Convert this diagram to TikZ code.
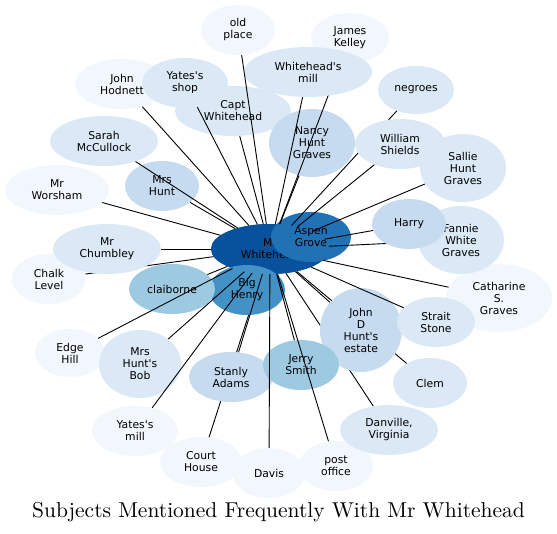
\documentclass[tikz,border=0pt]{standalone}
\usepackage{fontspec}
\newfontfamily\labfont{DejaVu Sans}
\newfontfamily\titlefont{lmroman10-regular.otf}
\usetikzlibrary{shapes.geometric}
\definecolor{c0}{HTML}{F2F7FD}
\definecolor{c1}{HTML}{DBE9F6}
\definecolor{c2}{HTML}{C6DBEF}
\definecolor{c3}{HTML}{9ECAE1}
\definecolor{c5}{HTML}{4292C6}
\definecolor{c6}{HTML}{2171B5}
\definecolor{c7}{HTML}{08519C}
\tikzset{
  ent/.style={ellipse, inner sep=0pt, align=center, text=black,
    font=\labfont\fontsize{10.8}{12}\selectfont},
  sz/.style 2 args={minimum width=#1pt, minimum height=#2pt},
  link/.style={draw=black, line width=0.9pt}
}
\begin{document}
\begin{tikzpicture}[x=1pt,y=-1pt]
\useasboundingbox (0,0) rectangle (557,534);
% group A
\node[ent,fill=c0,sz={74}{50}] (old) at (238,30) {old\\place};
\node[ent,fill=c0,sz={78}{50}] (jk) at (350,38) {James\\Kelley};
\node[ent,fill=c0,sz={94}{50}] (hod) at (122,84) {John\\Hodnett};
\node[ent,fill=c1,sz={86}{50}] (ysh) at (185,83) {Yates's\\shop};
\node[ent,fill=c1,sz={116}{50}] (capt) at (233,111) {Capt\\Whitehead};
\node[ent,fill=c1,sz={108}{50}] (sarah) at (104,141) {Sarah\\McCullock};
\node[ent,fill=c0,sz={104}{50}] (wor) at (57,190) {Mr\\Worsham};
\node[ent,fill=c0,sz={74}{50}] (chalk) at (49,279) {Chalk\\Level};
\node[ent,fill=c0,sz={70}{48}] (edge) at (70,353) {Edge\\Hill};
\node[ent,fill=c0,sz={86}{50}] (ymill) at (135,431) {Yates's\\mill};
\node[ent,fill=c0,sz={82}{50}] (court) at (201,462) {Court\\House};
\node[ent,fill=c0,sz={72}{50}] (davis) at (269,473) {Davis};
\node[ent,fill=c0,sz={74}{50}] (post) at (336,466) {post\\office};
\node[ent,fill=c1,sz={98}{50}] (danv) at (389,430) {Danville,\\Virginia};
\node[ent,fill=c1,sz={74}{50}] (clem) at (430,383) {Clem};
\node[ent,fill=c0,sz={106}{68}] (cath) at (499,298) {Catharine\\S.\\Graves};
\node[ent,fill=c1,sz={86}{68}] (fannie) at (461,240) {Fannie\\White\\Graves};
\node[ent,fill=c1,sz={86}{68}] (sallie) at (463,168) {Sallie\\Hunt\\Graves};
\node[ent,fill=c1,sz={76}{48}] (neg) at (416,90) {negroes};
\node[ent,fill=c1,sz={82}{68}] (bob) at (140,364) {Mrs\\Hunt's\\Bob};
% centre node (drawn early so that its name is known)
\node[ent,fill=c7,sz={118}{50}] (mw) at (270,249) {Mr\\Whitehead};
% hidden edges, first batch
\draw[link] (chalk) -- (mw);
\draw[link] (court) -- (mw);
\draw[link] (clem) -- (mw);
\draw[link] (danv) -- (mw);
% group B
\node[ent,fill=c7,sz={118}{50}] (mw2) at (270,249) {Mr\\Whitehead};
\node[ent,fill=c6,sz={80}{50}] (aspen) at (311,237) {Aspen\\Grove};
\node[ent,fill=c5,sz={76}{50}] (henry) at (247,290) {Big\\Henry};
\node[ent,fill=c1,sz={108}{50}] (chum) at (107,249) {Mr\\Chumbley};
\node[ent,fill=c3,sz={86}{50}] (claib) at (172,289) {claiborne};
\node[ent,fill=c2,sz={74}{50}] (mrshunt) at (162,186) {Mrs\\Hunt};
\node[ent,fill=c2,sz={86}{68}] (nancy) at (312,143) {Nancy\\Hunt\\Graves};
\node[ent,fill=c2,sz={82}{84}] (johnd) at (361,330) {John\\D\\Hunt's\\estate};
\node[ent,fill=c1,sz={78}{50}] (strait) at (436,322) {Strait\\Stone};
\node[ent,fill=c2,sz={84}{50}] (stanly) at (231,377) {Stanly\\Adams};
\node[ent,fill=c3,sz={76}{50}] (jerry) at (301,365) {Jerry\\Smith};
% hidden edges, second batch
\draw[link] (jk) -- (mw);
\draw[link] (neg) -- (mw);
\draw[link] (fannie) -- (mw);
% group C
\node[ent,fill=c1,sz={128}{50}] (mill) at (308,72) {Whitehead's\\mill};
\node[ent,fill=c1,sz={90}{50}] (shields) at (400,144) {William\\Shields};
\node[ent,fill=c2,sz={74}{50}] (harry) at (409,224) {Harry};
% visible edges
\foreach \n in {old,mill,hod,ysh,capt,sarah,mrshunt,wor,chum,claib,edge,bob,ymill,stanly,davis,jerry,post,johnd,strait,cath,harry,sallie,shields,nancy}
  \draw[link] (\n) -- (mw);
% title
\node[font=\titlefont\fontsize{21.5}{26}\selectfont] (title) at (278.5,512) {Subjects Mentioned Frequently With Mr Whitehead};
\end{tikzpicture}
\end{document}
